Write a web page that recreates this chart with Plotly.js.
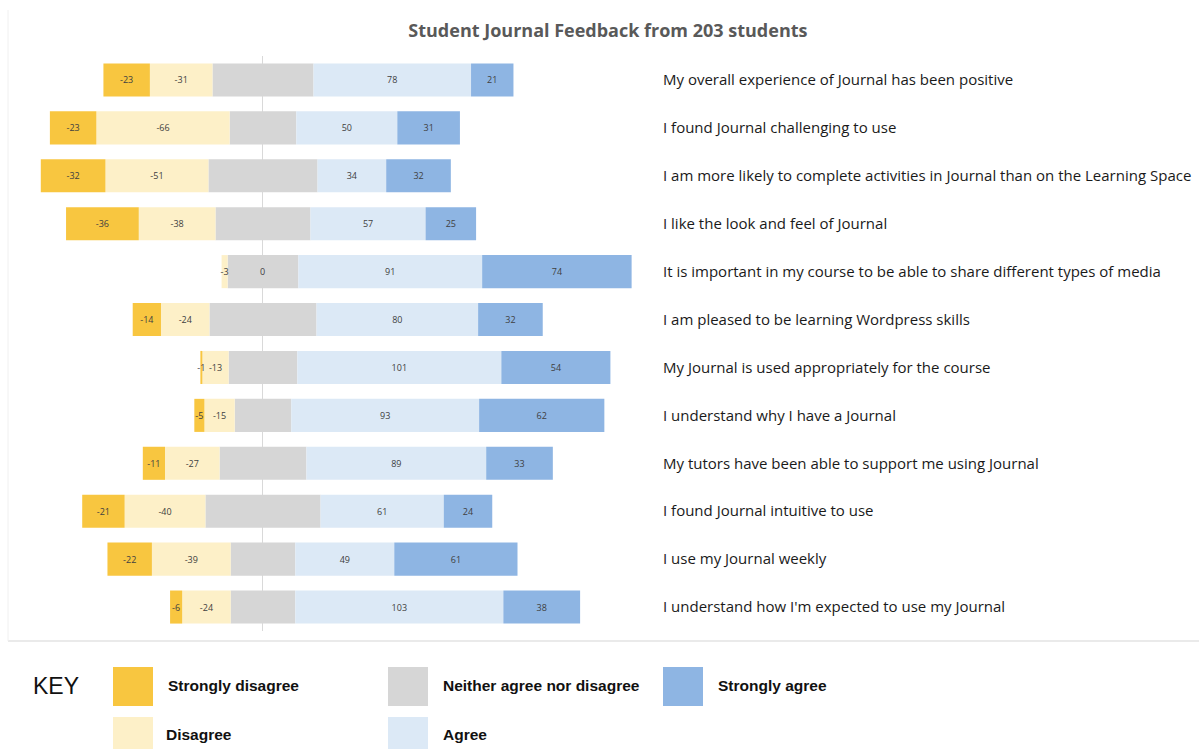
<!DOCTYPE html>
<html>
<head>
<meta charset="utf-8">
<script src="https://cdn.plot.ly/plotly-3.0.1.min.js"></script>
<style>html,body{margin:0;padding:0;background:#fff;}#chart{width:1199px;height:749px;}</style>
</head>
<body>
<div id="chart"></div>
<script>
// Statements (top to bottom)
const statements = [
  "My overall experience of Journal has been positive",
  "I found Journal challenging to use",
  "I am more likely to complete activities in Journal than on the Learning Space",
  "I like the look and feel of Journal",
  "It is important in my course to be able to share different types of media",
  "I am pleased to be learning Wordpress skills",
  "My Journal is used appropriately for the course",
  "I understand why I have a Journal",
  "My tutors have been able to support me using Journal",
  "I found Journal intuitive to use",
  "I use my Journal weekly",
  "I understand how I'm expected to use my Journal"
];
// Response counts (203 students)
const stronglyDisagree = [23, 23, 32, 36, 0, 14, 1, 5, 11, 21, 22, 6];
const disagree         = [31, 66, 51, 38, 3, 24, 13, 15, 27, 40, 39, 24];
const neither          = [50, 33, 54, 47, 35, 53, 34, 28, 43, 57, 32, 32];
const agree            = [78, 50, 34, 57, 91, 80, 101, 93, 89, 61, 49, 103];
const stronglyAgree    = [21, 31, 32, 25, 74, 32, 54, 62, 33, 24, 61, 38];

const colSD = "#F8C640", colD = "#FDF0C8", colN = "#D6D6D6", colA = "#DCE9F6", colSA = "#8EB5E3";
const labelFont = {family: "Open Sans, sans-serif", size: 9, color: "#404040"};

function barTrace(name, xs, color, texts) {
  return {
    type: "bar", orientation: "h", name: name,
    y: statements, x: xs,
    marker: {color: color, line: {width: 0}},
    text: texts || null,
    textposition: texts ? "inside" : "none",
    insidetextanchor: "middle",
    textangle: 0,
    constraintext: "none",
    textfont: labelFont,
    hoverinfo: "skip",
    showlegend: false
  };
}

const traces = [
  barTrace("Neither (left half)", neither.map(v => -v / 2), colN),
  barTrace("Disagree", disagree.map(v => -v), colD, disagree.map(v => v === 0 ? "" : String(-v))),
  barTrace("Strongly disagree", stronglyDisagree.map(v => -v), colSD, stronglyDisagree.map(v => v === 0 ? "" : String(-v))),
  barTrace("Neither (right half)", neither.map(v => v / 2), colN),
  barTrace("Agree", agree, colA, agree.map(String)),
  barTrace("Strongly agree", stronglyAgree, colSA, stronglyAgree.map(String))
];

// Zero-count labels shown at the centre line
const zeroAnnots = [];
stronglyDisagree.forEach((v, i) => {
  if (v === 0) zeroAnnots.push({x: 0, y: statements[i], xref: "x", yref: "y", text: String(v),
    showarrow: false, font: labelFont, xanchor: "center", yanchor: "middle"});
});

// Key (legend) built from layout elements
const L = 20, W = 630, T = 56, H = 575;
const px = v => (v - L) / W;
const py = v => (T + H - v) / H;
const keyItems = [
  {label: "Strongly disagree", color: colSD, sx: 113, sy: 667, tx: 166, ty: 686},
  {label: "Disagree", color: colD, sx: 113, sy: 717, tx: 164, ty: 734},
  {label: "Neither agree nor disagree", color: colN, sx: 388, sy: 667, tx: 441, ty: 686},
  {label: "Agree", color: colA, sx: 388, sy: 717, tx: 441, ty: 734},
  {label: "Strongly agree", color: colSA, sx: 663, sy: 667, tx: 716, ty: 686}
];
const shapes = [
  {type: "line", xref: "paper", yref: "paper", x0: px(8), x1: px(1199), y0: py(641), y1: py(641),
   line: {color: "#e3e3e3", width: 1.5}},
  {type: "line", xref: "paper", yref: "paper", x0: px(8), x1: px(8), y0: py(10), y1: py(641),
   line: {color: "#f0f0f0", width: 1}}
];
const annots = zeroAnnots.slice();
annots.push({xref: "paper", yref: "paper", x: px(31), y: py(686), text: "KEY", showarrow: false,
  xanchor: "left", yanchor: "middle", font: {family: "Liberation Sans, Arial, sans-serif", size: 23, color: "#111"}});
keyItems.forEach(k => {
  shapes.push({type: "rect", xref: "paper", yref: "paper", x0: px(k.sx), x1: px(k.sx + 40),
    y0: py(k.sy + 39), y1: py(k.sy), fillcolor: k.color, line: {width: 0}});
  annots.push({xref: "paper", yref: "paper", x: px(k.tx), y: py(k.ty), text: k.label, showarrow: false,
    xanchor: "left", yanchor: "middle", font: {family: "Liberation Sans, Arial, sans-serif", size: 15.5, color: "#111", weight: "bold"}});
});

const layout = {
  width: 1199, height: 749,
  margin: {l: L, r: 1199 - L - W, t: T, b: 749 - T - H},
  paper_bgcolor: "#ffffff", plot_bgcolor: "#ffffff",
  title: {text: "<b>Student Journal Feedback from 203 students</b>", xref: "container", x: 0.507, xanchor: "center",
    yref: "container", y: 1 - 31 / 749, yanchor: "middle",
    font: {family: "Open Sans, sans-serif", size: 18, color: "#595959"}},
  barmode: "relative",
  bargap: 0.31,
  xaxis: {range: [-120.3, 191.6], showticklabels: false, showgrid: false, zeroline: true,
    zerolinecolor: "#d9d9d9", zerolinewidth: 1, fixedrange: true},
  yaxis: {autorange: "reversed", side: "right", showgrid: false, zeroline: false, ticks: "",
    ticklabelstandoff: 12, automargin: false,
    tickfont: {family: "Open Sans, sans-serif", size: 15, color: "#1a1a1a"}, fixedrange: true},
  uniformtext: {mode: "show", minsize: 9},
  shapes: shapes,
  annotations: annots
};

Plotly.newPlot("chart", traces, layout, {displayModeBar: false, staticPlot: true});
</script>
</body>
</html>
